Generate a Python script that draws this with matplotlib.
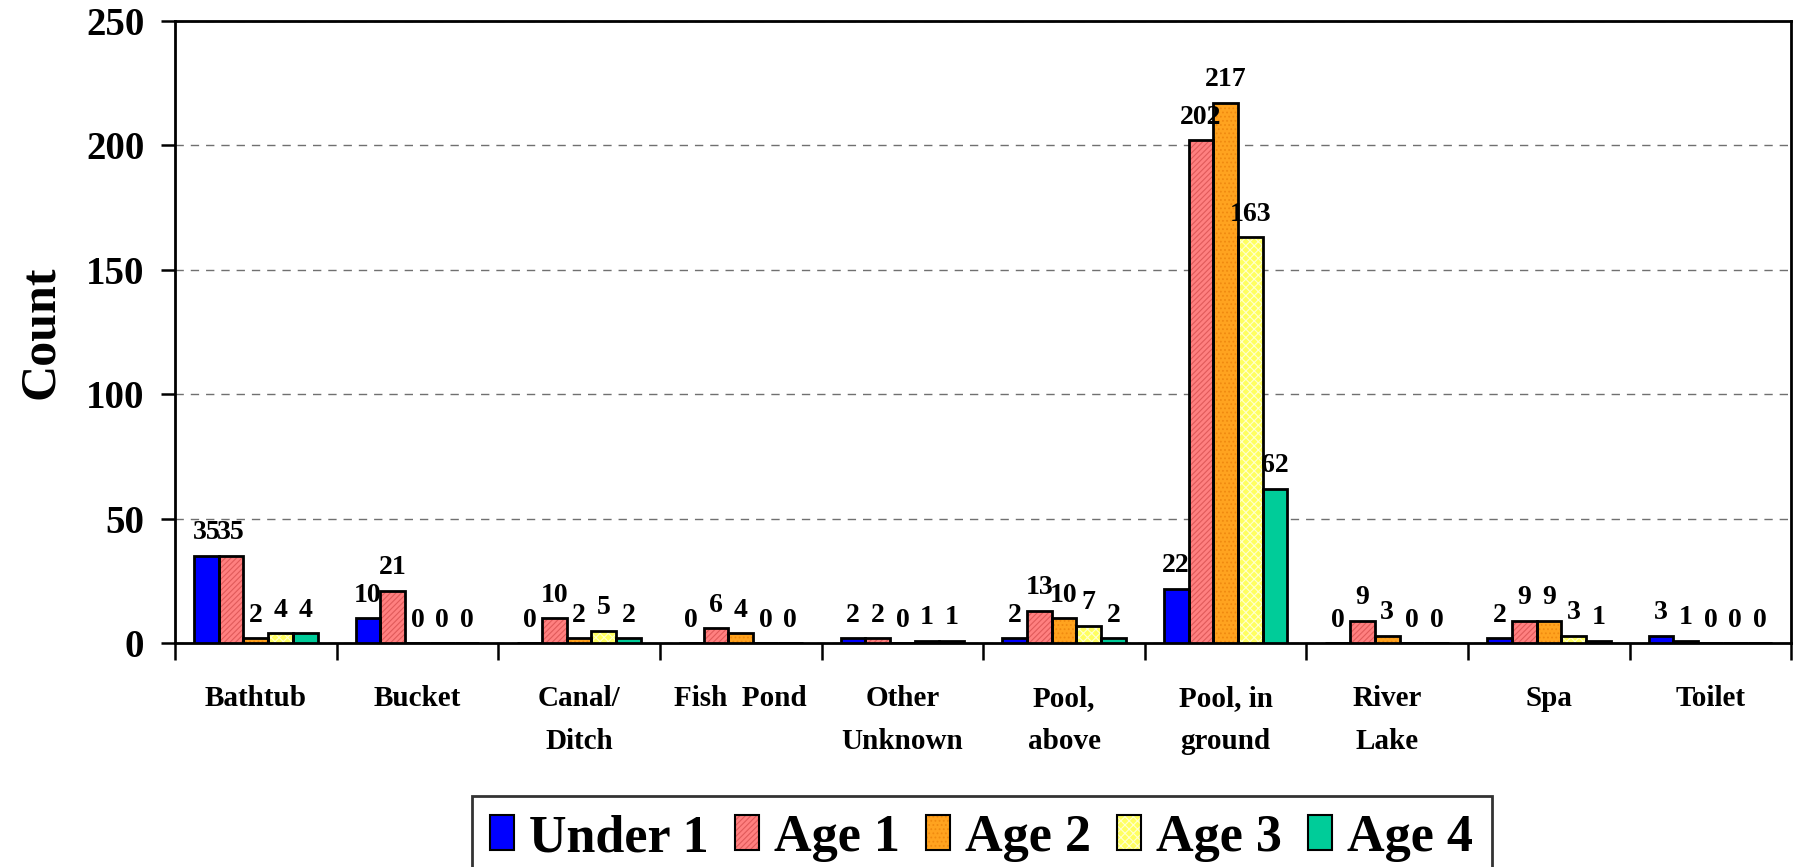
import matplotlib
matplotlib.use("Agg")
import matplotlib.pyplot as plt
import numpy as np
from matplotlib.patches import Patch
from matplotlib.legend_handler import HandlerTuple

categories = ["Bathtub", "Bucket", "Canal/\nDitch", "Fish  Pond", "Other\nUnknown",
              "Pool,\nabove", "Pool, in\nground", "River\nLake", "Spa", "Toilet"]
series_names = ["Under 1", "Age 1", "Age 2", "Age 3", "Age 4"]
under1 = [35, 10, 0, 0, 2, 2, 22, 0, 2, 3]
age1 = [35, 21, 10, 6, 2, 13, 202, 9, 9, 1]
age2 = [2, 0, 2, 4, 0, 10, 217, 3, 9, 0]
age3 = [4, 0, 5, 0, 1, 7, 163, 0, 3, 0]
age4 = [4, 0, 2, 0, 1, 2, 62, 0, 1, 0]
series = [under1, age1, age2, age3, age4]

faces = ["#0000FF", "#FF8080", "#FFA31F", "#FFFF60", "#00CC99"]
hatches = [None, "//////", "....", "xxxx", None]
hatch_cols = ["#0000FF", "#E05A5A", "#F08A10", "#FFFFD0", "#00CC99"]

plt.rcParams['font.family'] = ['Liberation Serif', 'DejaVu Serif']
plt.rcParams['font.weight'] = 'bold'
plt.rcParams['hatch.linewidth'] = 0.8

fig = plt.figure(figsize=(17.95, 8.67), dpi=100)
ax = fig.add_axes([0.0975, 0.258, 0.9005, 0.718])

x = np.arange(len(categories))
bw = 0.153
handles = []
for i, (vals, fc, h, hc) in enumerate(zip(series, faces, hatches, hatch_cols)):
    pos = x + (i - 2) * bw
    ax.bar(pos, vals, bw, color=fc, hatch=h, edgecolor=hc, linewidth=0, zorder=3)
    ax.bar(pos, vals, bw, facecolor='none', edgecolor='black', linewidth=2.0, zorder=4)
    for p, v in zip(pos, vals):
        ax.annotate(str(v), (p, v), xytext=(0, 12), textcoords='offset points',
                    ha='center', va='baseline', fontsize=20, fontweight='bold', zorder=5)
    p1 = Patch(facecolor=fc, hatch=h, edgecolor=hc, linewidth=0)
    p2 = Patch(facecolor='none', edgecolor='black', linewidth=1.5)
    handles.append((p1, p2))

ax.set_xlim(-0.5, len(categories) - 0.5)
ax.set_ylim(0, 250)
ax.set_yticks([0, 50, 100, 150, 200, 250])
ax.yaxis.grid(True, linestyle=(0, (6, 5)), color='#707070', linewidth=1.0, zorder=0)
ax.set_axisbelow(True)

ax.set_xticks(x)
ax.set_xticklabels(categories, fontsize=21, fontweight='bold', linespacing=1.75)
ax.tick_params(axis='x', length=0, pad=30)
ax.set_xticks(np.arange(-0.5, len(categories), 1.0), minor=True)
ax.tick_params(axis='x', which='minor', length=12, width=1.8, direction='out')
ax.tick_params(axis='y', length=10, width=1.8, direction='out', labelsize=28, pad=12)
for lab in ax.get_yticklabels():
    lab.set_fontweight('bold')

for s in ax.spines.values():
    s.set_linewidth(2)
    s.set_color('black')

ax.set_ylabel("Count", fontsize=36, fontweight='bold', labelpad=16)

leg = fig.legend(handles, series_names, handler_map={tuple: HandlerTuple(ndivide=1)},
                 loc='upper center', bbox_to_anchor=(0.547, 0.082), ncol=5,
                 prop={'weight': 'bold', 'size': 37.5},
                 frameon=True, fancybox=False, edgecolor='black',
                 handlelength=0.45, handleheight=0.65, handletextpad=0.3,
                 columnspacing=0.5, borderpad=0.35, borderaxespad=0)
leg.get_frame().set_linewidth(2)

fig.savefig("out.png", dpi=100)
